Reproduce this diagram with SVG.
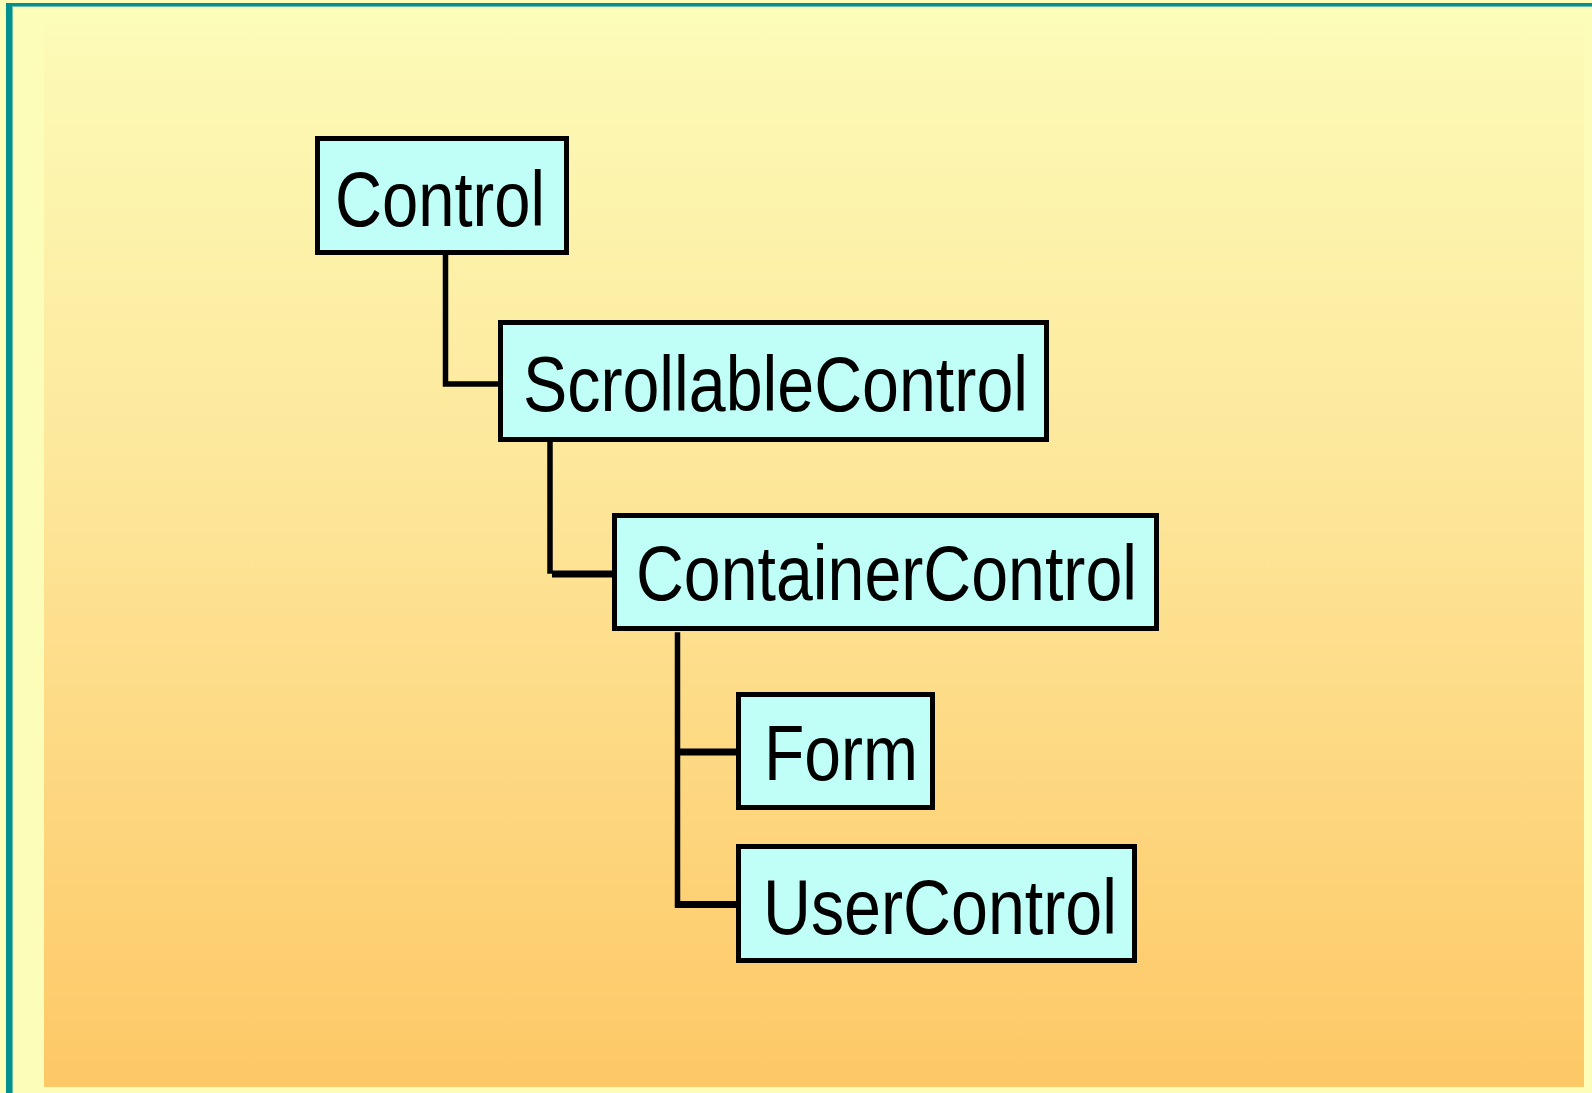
<svg xmlns="http://www.w3.org/2000/svg" width="1592" height="1093" viewBox="0 0 1592 1093">
  <defs>
    <linearGradient id="bg" x1="0" y1="0" x2="0" y2="1">
      <stop offset="0" stop-color="#FCFBB8"/>
      <stop offset="0.5" stop-color="#FDE394"/>
      <stop offset="1" stop-color="#FDC866"/>
    </linearGradient>
    <style>
      .box { fill: #BFFFF8; stroke: #000; stroke-width: 5; }
      .lbl { font-family: "Liberation Sans", Arial, sans-serif; font-size: 78px; fill: #000; }
      .conn { fill: none; stroke: #000; stroke-width: 5.5; stroke-linecap: square; }
      .connh { fill: none; stroke: #000; stroke-width: 7; }
    </style>
  </defs>
  <rect x="0" y="0" width="1592" height="1093" fill="#FDFDBA"/>
  <rect x="44" y="23" width="1540" height="1064" fill="url(#bg)"/>
  <rect x="6" y="3" width="1586" height="3" fill="#00908E"/>
  <rect x="6" y="3" width="6" height="1090" fill="#00908E"/>
  <rect x="12" y="6" width="1580" height="1" fill="#6BC0A8"/>
  <rect x="12" y="6" width="1" height="1087" fill="#6BC0A8"/>

  <g id="connectors">
    <polyline class="conn" points="445.5,253 445.5,384 500,384"/>
    <line class="conn" x1="550" y1="440" x2="550" y2="571"/>
    <line class="connh" x1="552" y1="574" x2="614" y2="574"/>
    <line class="conn" x1="677.5" y1="635" x2="677.5" y2="905"/>
    <line class="connh" x1="675" y1="752" x2="738" y2="752"/>
    <line class="connh" x1="675" y1="904.5" x2="738" y2="904.5"/>
  </g>

  <g id="node-control">
    <rect class="box" x="317.5" y="138.5" width="249" height="114"/>
    <text class="lbl" x="335" y="226" textLength="210" lengthAdjust="spacingAndGlyphs">Control</text>
  </g>
  <g id="node-scrollable">
    <rect class="box" x="500.5" y="322.5" width="546" height="117"/>
    <text class="lbl" x="523" y="411" textLength="505" lengthAdjust="spacingAndGlyphs">ScrollableControl</text>
  </g>
  <g id="node-container">
    <rect class="box" x="614.5" y="515.5" width="542" height="113"/>
    <text class="lbl" x="636" y="600" textLength="501" lengthAdjust="spacingAndGlyphs">ContainerControl</text>
  </g>
  <g id="node-form">
    <rect class="box" x="738.5" y="694.5" width="194" height="113"/>
    <text class="lbl" x="764" y="780" textLength="154" lengthAdjust="spacingAndGlyphs">Form</text>
  </g>
  <g id="node-usercontrol">
    <rect class="box" x="738.5" y="846.5" width="396" height="114"/>
    <text class="lbl" x="763" y="934" textLength="354" lengthAdjust="spacingAndGlyphs">UserControl</text>
  </g>
</svg>
